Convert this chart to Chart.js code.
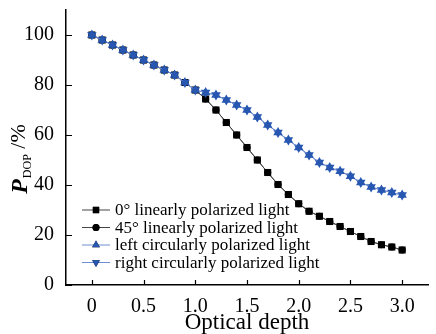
<!DOCTYPE html>
<html>
<head>
<meta charset="utf-8">
<script src="https://cdn.jsdelivr.net/npm/chart.js@4.4.1/dist/chart.umd.min.js"></script>
<style>
  html, body { margin: 0; padding: 0; background: #fff; }
  #wrap { width: 436px; height: 334px; }
</style>
</head>
<body>
<div id="wrap"><canvas id="chart"></canvas></div>
<script>
// profundidad óptica (eje x)
const depth = [0, 0.1, 0.2, 0.3, 0.4, 0.5, 0.6, 0.7, 0.8, 0.9, 1.0,
  1.1, 1.2, 1.3, 1.4, 1.5, 1.6, 1.7, 1.8, 1.9, 2.0,
  2.1, 2.2, 2.3, 2.4, 2.5, 2.6, 2.7, 2.8, 2.9, 3.0];

// grado de polarización (%)
const linear0 = [100, 98, 96, 94, 92, 90, 88, 86, 84, 81, 78,
  74.4, 70, 65, 60, 55, 50, 45, 40.2, 36.2, 32.5,
  29.5, 27.5, 25.4, 23.4, 21.4, 19.4, 17.4, 16.1, 15.2, 14];
const linear45 = [100, 98, 96, 94, 92, 90, 88, 86, 84, 81, 78,
  74.4, 70, 65, 60, 55, 50, 45, 40.2, 36.2, 32.5,
  29.5, 27.5, 25.4, 23.4, 21.4, 19.4, 17.4, 16.1, 15.2, 14];
const circLeft = [100, 98, 96, 94, 92, 90, 88, 86, 84, 81, 78,
  77, 76, 74, 72, 70, 67.2, 64, 61, 58, 55,
  52, 49, 47, 45.5, 43.5, 41, 39.2, 38, 37, 36];
const circRight = [100, 98, 96, 94, 92, 90, 88, 86, 84, 81, 78,
  77, 76, 74, 72, 70, 67.2, 64, 61, 58, 55,
  52, 49, 47, 45.5, 43.5, 41, 39.2, 38, 37, 36];

const seriesNames = ['0° linearly polarized light', '45° linearly polarized light',
  'left circularly polarized light', 'right circularly polarized light'];

const xTicks = [0, 0.5, 1.0, 1.5, 2.0, 2.5, 3.0];
const xTickLabels = ['0', '0.5', '1.0', '1.5', '2.0', '2.5', '3.0'];
const yTicks = [0, 20, 40, 60, 80, 100];

const SERIF = '"Liberation Serif", "DejaVu Serif", serif';
const BLUE = '#2757b0';
const BLUE_LINE = '#6f8fd0';

function pts(arr) {
  return arr.map((v, i) => ({ x: depth[i], y: v }));
}

// ticks hacia adentro, leyenda y título del eje y
const extras = {
  id: 'extras',
  afterDraw(chart) {
    const ctx = chart.ctx;
    const xs = chart.scales.x, ys = chart.scales.y;
    const area = chart.chartArea;
    ctx.save();
    ctx.strokeStyle = '#000';
    ctx.lineWidth = 1.2;
    ctx.beginPath();
    xTicks.forEach(v => {
      const px = Math.round(xs.getPixelForValue(v)) + 0.5;
      ctx.moveTo(px, area.bottom);
      ctx.lineTo(px, area.bottom - 5);
    });
    yTicks.forEach(v => {
      const py = Math.round(ys.getPixelForValue(v)) + 0.5;
      ctx.moveTo(area.left, py);
      ctx.lineTo(area.left + 6, py);
    });
    ctx.stroke();

    // leyenda
    ctx.font = '17px ' + SERIF;
    ctx.textBaseline = 'middle';
    chart.data.datasets.forEach((ds, i) => {
      const y = 210 + i * 17.5;
      ctx.strokeStyle = ds.borderColor;
      ctx.lineWidth = 1;
      ctx.beginPath();
      ctx.moveTo(82, y);
      ctx.lineTo(110, y);
      ctx.stroke();
      Chart.helpers.drawPoint(ctx, {
        pointStyle: ds.pointStyle,
        rotation: ds.rotation || 0,
        borderWidth: 0,
        radius: ds.legendRadius
      }, 96, y);
      ctx.fillStyle = ds.pointBackgroundColor;
      ctx.fill();
      ctx.fillStyle = '#000';
      ctx.fillText(ds.label, 115, y + 1);
    });

    // título del eje y: P_DOP /%
    ctx.translate(20, 159);
    ctx.rotate(-Math.PI / 2);
    ctx.fillStyle = '#000';
    ctx.textBaseline = 'alphabetic';
    const f1 = 'italic bold 24px ' + SERIF;
    const f2 = '12px ' + SERIF;
    const f3 = '22px ' + SERIF;
    ctx.font = f1; const w1 = ctx.measureText('P').width;
    ctx.font = f2; const w2 = ctx.measureText('DOP').width;
    ctx.font = f3; const w3 = ctx.measureText(' /%').width;
    let x0 = -(w1 + w2 + w3 + 1) / 2;
    ctx.font = f1; ctx.fillText('P', x0, 7);
    ctx.font = f2; ctx.fillText('DOP', x0 + w1 + 1, 11);
    ctx.font = f3; ctx.fillText(' /%', x0 + w1 + 1 + w2, 5);
    ctx.restore();
  }
};

new Chart(document.getElementById('chart'), {
  type: 'scatter',
  data: {
    datasets: [
      {
        label: seriesNames[0], data: pts(linear0), showLine: true,
        borderColor: '#444', borderWidth: 1,
        pointStyle: 'rect', pointRadius: 5, legendRadius: 4.5,
        pointBackgroundColor: '#000', pointBorderWidth: 0, order: 3
      },
      {
        label: seriesNames[1], data: pts(linear45), showLine: true,
        borderColor: '#444', borderWidth: 1,
        pointStyle: 'circle', pointRadius: 3.6, legendRadius: 3.5,
        pointBackgroundColor: '#000', pointBorderWidth: 0, order: 4
      },
      {
        label: seriesNames[2], data: pts(circLeft), showLine: true,
        borderColor: BLUE_LINE, borderWidth: 1,
        pointStyle: 'triangle', pointRadius: 5.5, legendRadius: 4.5,
        pointBackgroundColor: BLUE, pointBorderWidth: 0, order: 1
      },
      {
        label: seriesNames[3], data: pts(circRight), showLine: true,
        borderColor: BLUE_LINE, borderWidth: 1,
        pointStyle: 'triangle', rotation: 180, pointRotation: 180,
        pointRadius: 5.5, legendRadius: 4.5,
        pointBackgroundColor: BLUE, pointBorderWidth: 0, order: 2
      }
    ]
  },
  options: {
    responsive: true,
    maintainAspectRatio: false,
    animation: false,
    layout: { padding: { top: 10, right: 8, left: 0, bottom: 0 } },
    plugins: {
      legend: { display: false },
      tooltip: { enabled: false }
    },
    scales: {
      x: {
        type: 'linear',
        min: -0.25, max: 3.25,
        grid: { display: false },
        border: { display: true, color: '#000', width: 1.5 },
        afterBuildTicks: s => { s.ticks = xTicks.map(v => ({ value: v })); },
        afterFit: s => { s.height = 49; s.paddingLeft = 0; s.paddingRight = 0; },
        ticks: {
          padding: 2,
          color: '#000',
          font: { family: SERIF, size: 20 },
          maxRotation: 0,
          callback: (v) => xTickLabels[xTicks.indexOf(v)]
        },
        title: {
          display: true, text: 'Optical depth', color: '#000',
          font: { family: SERIF, size: 23 }, padding: { top: -4, bottom: -3 }
        }
      },
      y: {
        min: 0, max: 110,
        grid: { display: false },
        border: { display: true, color: '#000', width: 1.5 },
        afterBuildTicks: s => { s.ticks = yTicks.map(v => ({ value: v })); },
        afterFit: s => { s.width = 66; s.paddingTop = 0; s.paddingBottom = 0; },
        ticks: {
          padding: 4,
          color: '#000',
          font: { family: SERIF, size: 20 }
        }
      }
    }
  },
  plugins: [extras]
});
</script>
</body>
</html>
